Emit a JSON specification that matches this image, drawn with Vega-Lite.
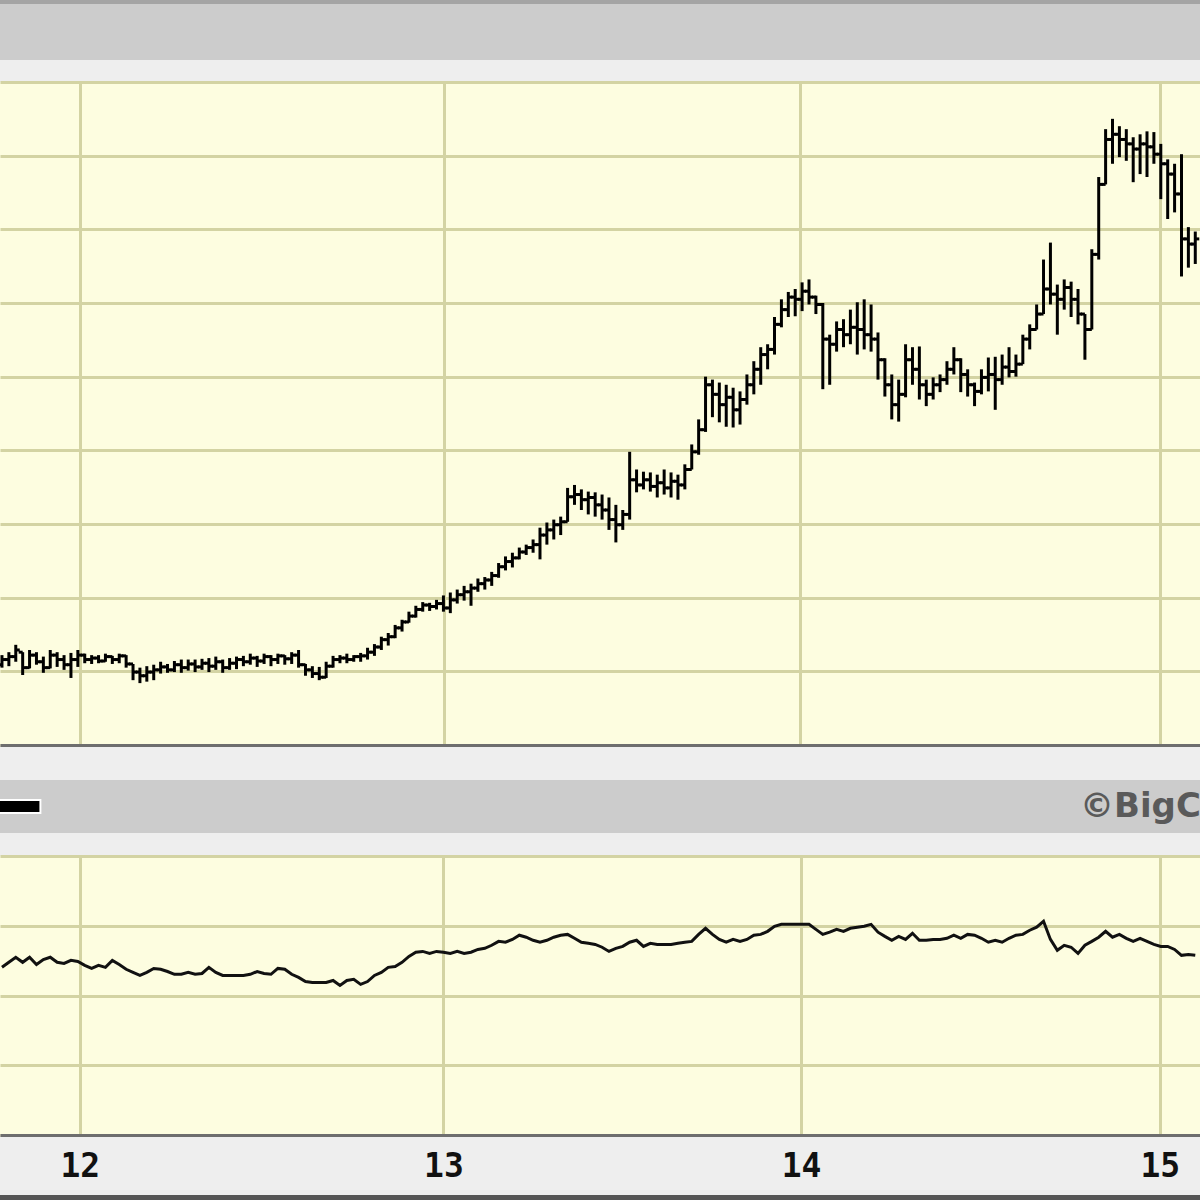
{
"$schema": "https://vega.github.io/schema/vega-lite/v6.json",
"background": "#eeeeee",
"padding": 0,
"spacing": 0,
"config": {"view": {"stroke": null}, "concat": {"spacing": 0}},
"datasets": {"w": [
{"d":"2011-10-14","o":10.9,"h":12.2,"l":10.5,"c":11.6,"v":60.1},
{"d":"2011-10-21","o":11.6,"h":12.6,"l":10.7,"c":12.0,"v":61.9},
{"d":"2011-10-28","o":12.0,"h":13.6,"l":11.3,"c":12.9,"v":63.7},
{"d":"2011-11-04","o":12.6,"h":12.6,"l":9.5,"c":10.5,"v":61.9},
{"d":"2011-11-11","o":10.5,"h":12.9,"l":10.4,"c":12.2,"v":63.7},
{"d":"2011-11-18","o":12.2,"h":12.6,"l":10.9,"c":11.3,"v":61.1},
{"d":"2011-11-25","o":11.3,"h":12.0,"l":9.8,"c":10.5,"v":62.9},
{"d":"2011-12-02","o":10.5,"h":12.9,"l":10.4,"c":12.2,"v":63.7},
{"d":"2011-12-09","o":12.2,"h":12.6,"l":10.6,"c":11.6,"v":61.9},
{"d":"2011-12-16","o":11.6,"h":12.2,"l":10.2,"c":10.9,"v":61.5},
{"d":"2011-12-23","o":10.9,"h":12.5,"l":9.1,"c":11.6,"v":62.6},
{"d":"2011-12-30","o":11.6,"h":12.9,"l":10.6,"c":12.2,"v":62.2},
{"d":"2012-01-06","o":12.2,"h":12.4,"l":11.1,"c":11.6,"v":60.8},
{"d":"2012-01-13","o":11.6,"h":12.2,"l":11.0,"c":11.8,"v":59.7},
{"d":"2012-01-20","o":11.8,"h":12.2,"l":11.1,"c":11.4,"v":60.8},
{"d":"2012-01-27","o":11.4,"h":12.4,"l":11.3,"c":12.0,"v":60.1},
{"d":"2012-02-03","o":12.0,"h":12.1,"l":11.0,"c":11.6,"v":62.6},
{"d":"2012-02-10","o":11.6,"h":12.4,"l":11.1,"c":12.1,"v":61.1},
{"d":"2012-02-17","o":12.1,"h":12.2,"l":10.5,"c":11.0,"v":59.4},
{"d":"2012-02-24","o":11.0,"h":11.0,"l":8.8,"c":9.9,"v":58.3},
{"d":"2012-03-02","o":9.9,"h":10.5,"l":8.4,"c":9.4,"v":57.2},
{"d":"2012-03-09","o":9.4,"h":10.7,"l":8.6,"c":9.9,"v":58.3},
{"d":"2012-03-16","o":9.9,"h":10.9,"l":8.8,"c":10.2,"v":59.7},
{"d":"2012-03-23","o":10.2,"h":11.3,"l":9.7,"c":10.6,"v":59.4},
{"d":"2012-03-30","o":10.6,"h":11.0,"l":9.8,"c":10.2,"v":58.6},
{"d":"2012-04-06","o":10.2,"h":11.4,"l":9.9,"c":10.9,"v":57.6},
{"d":"2012-04-13","o":10.9,"h":11.6,"l":9.8,"c":10.5,"v":57.6},
{"d":"2012-04-20","o":10.5,"h":11.6,"l":10.1,"c":11.0,"v":58.3},
{"d":"2012-04-27","o":11.0,"h":11.6,"l":9.9,"c":10.6,"v":57.6},
{"d":"2012-05-04","o":10.6,"h":11.7,"l":10.2,"c":11.1,"v":57.9},
{"d":"2012-05-11","o":11.1,"h":11.8,"l":9.9,"c":10.7,"v":60.1},
{"d":"2012-05-18","o":10.7,"h":12.0,"l":10.2,"c":11.3,"v":58.3},
{"d":"2012-05-25","o":11.3,"h":11.6,"l":9.8,"c":10.5,"v":57.2},
{"d":"2012-06-01","o":10.5,"h":11.8,"l":10.2,"c":11.1,"v":57.2},
{"d":"2012-06-08","o":11.1,"h":12.0,"l":10.3,"c":11.6,"v":57.2},
{"d":"2012-06-15","o":11.6,"h":12.1,"l":10.7,"c":11.3,"v":57.2},
{"d":"2012-06-22","o":11.3,"h":12.4,"l":10.9,"c":11.8,"v":57.6},
{"d":"2012-06-29","o":11.8,"h":12.1,"l":10.6,"c":11.4,"v":58.6},
{"d":"2012-07-06","o":11.4,"h":12.4,"l":11.0,"c":12.0,"v":57.9},
{"d":"2012-07-13","o":12.0,"h":12.2,"l":10.7,"c":11.6,"v":57.6},
{"d":"2012-07-20","o":11.6,"h":12.4,"l":11.0,"c":12.1,"v":59.7},
{"d":"2012-07-27","o":12.1,"h":12.2,"l":10.9,"c":11.7,"v":59.4},
{"d":"2012-08-03","o":11.7,"h":12.6,"l":11.0,"c":12.2,"v":57.6},
{"d":"2012-08-10","o":12.2,"h":12.9,"l":10.5,"c":10.9,"v":56.5},
{"d":"2012-08-17","o":10.9,"h":11.0,"l":9.4,"c":10.2,"v":55.0},
{"d":"2012-08-24","o":10.2,"h":10.7,"l":9.1,"c":9.7,"v":54.7},
{"d":"2012-08-31","o":9.7,"h":10.6,"l":8.8,"c":9.2,"v":54.7},
{"d":"2012-09-07","o":9.2,"h":11.3,"l":9.1,"c":10.7,"v":54.7},
{"d":"2012-09-14","o":10.7,"h":12.1,"l":10.5,"c":11.6,"v":55.4},
{"d":"2012-09-21","o":11.6,"h":12.2,"l":11.1,"c":11.8,"v":53.6},
{"d":"2012-09-28","o":11.8,"h":12.4,"l":11.1,"c":11.6,"v":55.4},
{"d":"2012-10-05","o":11.6,"h":12.2,"l":11.3,"c":12.0,"v":55.8},
{"d":"2012-10-12","o":12.0,"h":12.5,"l":11.3,"c":12.1,"v":54.0},
{"d":"2012-10-19","o":12.1,"h":13.2,"l":11.6,"c":12.6,"v":55.0},
{"d":"2012-10-26","o":12.6,"h":13.7,"l":12.1,"c":13.3,"v":57.2},
{"d":"2012-11-02","o":13.3,"h":14.7,"l":12.9,"c":14.3,"v":58.3},
{"d":"2012-11-09","o":14.3,"h":15.2,"l":13.5,"c":14.7,"v":60.1},
{"d":"2012-11-16","o":14.7,"h":16.3,"l":14.5,"c":15.9,"v":60.4},
{"d":"2012-11-23","o":15.9,"h":17.0,"l":15.4,"c":16.7,"v":61.9},
{"d":"2012-11-30","o":16.7,"h":18.1,"l":16.6,"c":17.5,"v":64.0},
{"d":"2012-12-07","o":17.5,"h":18.9,"l":17.3,"c":18.4,"v":65.5},
{"d":"2012-12-14","o":18.4,"h":19.4,"l":18.1,"c":19.0,"v":65.8},
{"d":"2012-12-21","o":19.0,"h":19.3,"l":18.2,"c":18.8,"v":65.1},
{"d":"2012-12-28","o":18.8,"h":19.7,"l":18.4,"c":19.2,"v":65.8},
{"d":"2013-01-04","o":19.2,"h":20.3,"l":18.1,"c":18.6,"v":65.5},
{"d":"2013-01-11","o":18.6,"h":20.7,"l":17.9,"c":19.7,"v":65.1},
{"d":"2013-01-18","o":19.7,"h":21.1,"l":19.2,"c":20.4,"v":65.8},
{"d":"2013-01-25","o":20.4,"h":21.6,"l":19.6,"c":20.8,"v":65.1},
{"d":"2013-02-01","o":20.8,"h":21.9,"l":18.9,"c":21.3,"v":65.5},
{"d":"2013-02-08","o":21.3,"h":22.6,"l":20.8,"c":21.9,"v":66.5},
{"d":"2013-02-15","o":21.9,"h":22.8,"l":21.1,"c":22.4,"v":66.9},
{"d":"2013-02-22","o":22.4,"h":23.5,"l":21.6,"c":23.0,"v":68.0},
{"d":"2013-03-01","o":23.0,"h":24.7,"l":22.7,"c":24.2,"v":69.4},
{"d":"2013-03-08","o":24.2,"h":25.6,"l":23.7,"c":24.9,"v":69.1},
{"d":"2013-03-15","o":24.9,"h":26.1,"l":24.1,"c":25.4,"v":70.1},
{"d":"2013-03-22","o":25.4,"h":26.8,"l":25.2,"c":26.2,"v":71.6},
{"d":"2013-03-29","o":26.2,"h":27.2,"l":25.8,"c":26.8,"v":70.9},
{"d":"2013-04-05","o":26.8,"h":27.9,"l":26.1,"c":27.2,"v":69.8},
{"d":"2013-04-12","o":27.2,"h":29.5,"l":25.2,"c":28.5,"v":69.1},
{"d":"2013-04-19","o":28.5,"h":30.2,"l":27.2,"c":29.2,"v":69.8},
{"d":"2013-04-26","o":29.2,"h":30.6,"l":27.9,"c":29.9,"v":70.9},
{"d":"2013-05-03","o":29.9,"h":31.0,"l":28.5,"c":30.3,"v":71.6},
{"d":"2013-05-10","o":30.3,"h":34.9,"l":30.3,"c":33.7,"v":71.9},
{"d":"2013-05-17","o":33.7,"h":35.3,"l":32.6,"c":34.0,"v":70.5},
{"d":"2013-05-24","o":34.0,"h":34.7,"l":31.9,"c":33.3,"v":69.1},
{"d":"2013-05-31","o":33.3,"h":34.4,"l":31.3,"c":33.6,"v":68.7},
{"d":"2013-06-07","o":33.6,"h":34.3,"l":31.0,"c":32.6,"v":68.3},
{"d":"2013-06-14","o":32.6,"h":34.0,"l":30.6,"c":31.9,"v":67.3},
{"d":"2013-06-21","o":31.9,"h":33.6,"l":29.2,"c":30.6,"v":65.8},
{"d":"2013-06-28","o":30.6,"h":32.6,"l":27.5,"c":29.9,"v":66.9},
{"d":"2013-07-05","o":29.9,"h":31.9,"l":29.2,"c":31.3,"v":67.6},
{"d":"2013-07-12","o":31.3,"h":39.8,"l":30.6,"c":36.0,"v":69.1},
{"d":"2013-07-19","o":36.0,"h":37.4,"l":34.3,"c":35.3,"v":69.8},
{"d":"2013-07-26","o":35.3,"h":37.1,"l":34.7,"c":36.0,"v":67.6},
{"d":"2013-08-02","o":36.0,"h":37.0,"l":34.4,"c":35.1,"v":68.7},
{"d":"2013-08-09","o":35.1,"h":36.7,"l":33.6,"c":35.6,"v":68.3},
{"d":"2013-08-16","o":35.6,"h":37.4,"l":34.0,"c":34.9,"v":68.3},
{"d":"2013-08-23","o":34.9,"h":37.0,"l":33.6,"c":35.8,"v":68.3},
{"d":"2013-08-30","o":35.8,"h":36.7,"l":33.3,"c":35.3,"v":68.7},
{"d":"2013-09-06","o":35.3,"h":38.1,"l":34.7,"c":37.4,"v":69.1},
{"d":"2013-09-13","o":37.4,"h":40.8,"l":37.4,"c":39.8,"v":69.4},
{"d":"2013-09-20","o":39.8,"h":44.2,"l":39.4,"c":42.8,"v":71.9},
{"d":"2013-09-27","o":42.8,"h":50.0,"l":42.5,"c":48.9,"v":74.1},
{"d":"2013-10-04","o":48.9,"h":49.6,"l":44.5,"c":47.6,"v":71.9},
{"d":"2013-10-11","o":47.6,"h":49.2,"l":43.8,"c":46.2,"v":70.1},
{"d":"2013-10-18","o":46.2,"h":48.9,"l":43.2,"c":47.2,"v":69.1},
{"d":"2013-10-25","o":47.2,"h":48.5,"l":43.1,"c":45.5,"v":70.1},
{"d":"2013-11-01","o":45.5,"h":48.0,"l":43.5,"c":46.9,"v":69.4},
{"d":"2013-11-08","o":46.9,"h":50.3,"l":46.2,"c":48.9,"v":70.1},
{"d":"2013-11-15","o":48.9,"h":52.1,"l":47.6,"c":51.0,"v":71.6},
{"d":"2013-11-22","o":51.0,"h":54.0,"l":48.9,"c":53.0,"v":71.9},
{"d":"2013-11-29","o":53.0,"h":54.4,"l":51.0,"c":53.7,"v":73.0},
{"d":"2013-12-06","o":53.7,"h":58.1,"l":53.0,"c":57.1,"v":74.8},
{"d":"2013-12-13","o":57.1,"h":60.5,"l":56.7,"c":59.1,"v":75.5},
{"d":"2013-12-20","o":59.1,"h":61.5,"l":58.1,"c":60.8,"v":75.5},
{"d":"2013-12-27","o":60.8,"h":61.9,"l":58.2,"c":60.5,"v":75.5},
{"d":"2014-01-03","o":60.5,"h":62.8,"l":58.9,"c":61.6,"v":75.5},
{"d":"2014-01-10","o":61.6,"h":63.2,"l":59.8,"c":60.8,"v":75.5},
{"d":"2014-01-17","o":60.8,"h":61.0,"l":58.5,"c":59.8,"v":73.7},
{"d":"2014-01-24","o":59.8,"h":60.0,"l":48.3,"c":55.1,"v":71.9},
{"d":"2014-01-31","o":55.1,"h":55.7,"l":48.9,"c":54.4,"v":72.7},
{"d":"2014-02-07","o":54.4,"h":57.5,"l":53.4,"c":56.4,"v":73.7},
{"d":"2014-02-14","o":56.4,"h":57.8,"l":54.0,"c":55.7,"v":73.0},
{"d":"2014-02-21","o":55.7,"h":59.1,"l":54.4,"c":56.7,"v":74.1},
{"d":"2014-02-28","o":56.7,"h":60.1,"l":53.0,"c":56.4,"v":74.5},
{"d":"2014-03-07","o":56.4,"h":60.5,"l":53.7,"c":55.7,"v":74.8},
{"d":"2014-03-14","o":55.7,"h":59.8,"l":53.4,"c":55.1,"v":75.5},
{"d":"2014-03-21","o":55.1,"h":56.0,"l":49.6,"c":52.3,"v":72.7},
{"d":"2014-03-28","o":52.3,"h":52.5,"l":47.3,"c":48.9,"v":71.2},
{"d":"2014-04-04","o":48.9,"h":50.3,"l":44.2,"c":46.2,"v":69.8},
{"d":"2014-04-11","o":46.2,"h":49.6,"l":43.9,"c":47.6,"v":71.2},
{"d":"2014-04-18","o":47.6,"h":54.4,"l":47.2,"c":52.3,"v":70.1},
{"d":"2014-04-25","o":52.3,"h":54.0,"l":48.9,"c":51.0,"v":72.3},
{"d":"2014-05-02","o":51.0,"h":54.1,"l":46.9,"c":48.9,"v":69.8},
{"d":"2014-05-09","o":48.9,"h":49.6,"l":46.0,"c":47.6,"v":69.8},
{"d":"2014-05-16","o":47.6,"h":49.9,"l":46.9,"c":48.9,"v":70.1},
{"d":"2014-05-23","o":48.9,"h":50.3,"l":47.9,"c":49.6,"v":70.1},
{"d":"2014-05-30","o":49.6,"h":52.1,"l":48.9,"c":51.0,"v":70.5},
{"d":"2014-06-06","o":51.0,"h":54.0,"l":50.3,"c":52.3,"v":71.6},
{"d":"2014-06-13","o":52.3,"h":52.5,"l":47.9,"c":50.3,"v":70.5},
{"d":"2014-06-20","o":50.3,"h":51.0,"l":47.3,"c":48.9,"v":71.9},
{"d":"2014-06-27","o":48.9,"h":49.2,"l":46.0,"c":48.0,"v":71.6},
{"d":"2014-07-04","o":48.0,"h":51.0,"l":47.6,"c":49.9,"v":70.5},
{"d":"2014-07-11","o":49.9,"h":52.6,"l":48.0,"c":50.3,"v":69.1},
{"d":"2014-07-18","o":50.3,"h":52.7,"l":45.5,"c":49.6,"v":69.8},
{"d":"2014-07-25","o":49.6,"h":53.0,"l":48.9,"c":51.3,"v":69.1},
{"d":"2014-08-01","o":51.3,"h":54.0,"l":49.9,"c":50.7,"v":70.5},
{"d":"2014-08-08","o":50.7,"h":53.0,"l":50.0,"c":51.7,"v":71.6},
{"d":"2014-08-15","o":51.7,"h":55.7,"l":51.7,"c":55.1,"v":71.9},
{"d":"2014-08-22","o":55.1,"h":57.1,"l":53.7,"c":56.4,"v":73.4},
{"d":"2014-08-29","o":56.4,"h":59.8,"l":56.4,"c":58.5,"v":74.5},
{"d":"2014-09-05","o":58.5,"h":65.9,"l":58.5,"c":61.9,"v":76.6},
{"d":"2014-09-12","o":61.9,"h":68.2,"l":59.8,"c":61.2,"v":70.1},
{"d":"2014-09-19","o":61.2,"h":62.5,"l":55.7,"c":60.5,"v":66.2},
{"d":"2014-09-26","o":60.5,"h":63.2,"l":59.1,"c":62.1,"v":68.0},
{"d":"2014-10-03","o":62.1,"h":62.9,"l":58.1,"c":60.5,"v":67.3},
{"d":"2014-10-10","o":60.5,"h":61.9,"l":57.1,"c":58.5,"v":65.1},
{"d":"2014-10-17","o":58.5,"h":58.5,"l":52.3,"c":56.4,"v":68.0},
{"d":"2014-10-24","o":56.4,"h":67.3,"l":56.4,"c":66.6,"v":69.4},
{"d":"2014-10-31","o":66.6,"h":77.1,"l":65.9,"c":76.1,"v":70.9},
{"d":"2014-11-07","o":76.1,"h":83.6,"l":76.1,"c":82.2,"v":73.0},
{"d":"2014-11-14","o":82.2,"h":85.0,"l":78.9,"c":82.9,"v":70.9},
{"d":"2014-11-21","o":82.9,"h":84.0,"l":79.8,"c":82.2,"v":71.9},
{"d":"2014-11-28","o":82.2,"h":83.6,"l":79.3,"c":81.6,"v":70.5},
{"d":"2014-12-05","o":81.6,"h":82.5,"l":76.4,"c":80.9,"v":69.4},
{"d":"2014-12-12","o":80.9,"h":82.9,"l":77.5,"c":81.6,"v":70.5},
{"d":"2014-12-19","o":81.6,"h":83.3,"l":77.1,"c":81.2,"v":69.4},
{"d":"2014-12-26","o":81.2,"h":83.2,"l":78.9,"c":80.2,"v":68.3},
{"d":"2015-01-02","o":80.2,"h":81.6,"l":74.1,"c":78.9,"v":67.6},
{"d":"2015-01-09","o":78.9,"h":79.5,"l":71.4,"c":77.5,"v":67.6},
{"d":"2015-01-16","o":77.5,"h":78.9,"l":72.3,"c":74.8,"v":66.5},
{"d":"2015-01-23","o":74.8,"h":80.2,"l":63.6,"c":68.7,"v":64.4},
{"d":"2015-01-30","o":68.7,"h":70.3,"l":64.8,"c":68.0,"v":64.7},
{"d":"2015-02-06","o":68.0,"h":69.7,"l":65.3,"c":68.7,"v":64.4}
]},
"vconcat": [
{"width": 1200, "height": 4, "view": {"fill": "#a4a4a4", "stroke": null}, "mark": "text", "encoding": {"text": {"value": ""}}},
{"width": 1200, "height": 56, "view": {"fill": "#cccccc", "stroke": null}, "mark": "text", "encoding": {"text": {"value": ""}}},
{"width": 1200, "height": 22, "mark": "text", "encoding": {"text": {"value": ""}}},
{
 "width": 1200, "height": 663,
 "view": {"fill": "#fdfde0", "stroke": null},
 "data": {"name": "w"},
 "encoding": {
  "x": {"field": "d", "type": "temporal",
   "scale": {"type": "utc", "domain": [{"year": 2011, "month": 10, "date": 12, "utc": true}, {"year": 2015, "month": 2, "date": 10, "hours": 19, "utc": true}]},
   "axis": {"orient": "bottom", "title": null, "labels": false, "ticks": false, "domain": true, "domainColor": "#6e6e6e", "domainWidth": 3,
    "grid": true, "gridColor": "#d3d3a3", "gridWidth": 3,
    "values": [{"year": 2012, "month": 1, "date": 1, "utc": true}, {"year": 2013, "month": 1, "date": 5, "utc": true}, {"year": 2014, "month": 1, "date": 1, "utc": true}, {"year": 2015, "month": 1, "date": 1, "utc": true}]}}
 },
 "layer": [
  {"mark": {"type": "rule", "color": "#000000", "strokeWidth": 3, "clip": true},
   "encoding": {"y": {"field": "l", "type": "quantitative", "scale": {"domain": [0, 90], "nice": false, "zero": false},
     "axis": {"title": null, "labels": false, "ticks": false, "domain": false, "grid": true, "gridColor": "#d3d3a3", "gridWidth": 3, "values": [0, 10, 20, 30, 40, 50, 60, 70, 80, 90]}},
    "y2": {"field": "h"}}},
  {"mark": {"type": "rule", "color": "#000000", "strokeWidth": 3, "xOffset": -4, "clip": true},
   "encoding": {"x2": {"field": "d"}, "y": {"field": "o", "type": "quantitative"}}},
  {"mark": {"type": "rule", "color": "#000000", "strokeWidth": 3, "x2Offset": 4, "clip": true},
   "encoding": {"x2": {"field": "d"}, "y": {"field": "c", "type": "quantitative"}}}
 ]
},
{"width": 1200, "height": 35, "mark": "text", "encoding": {"text": {"value": ""}}},
{
 "width": 1200, "height": 53,
 "view": {"fill": "#cccccc", "stroke": null},
 "data": {"values": [{"label": "©BigCharts.com", "start": "2011-10-12", "swatch": "2011-11-21", "outline": "2011-11-23", "at": "2014-10-12"}]},
 "layer": [
  {"mark": {"type": "rule", "color": "#ffffff", "strokeWidth": 15, "clip": true},
   "encoding": {"x": {"field": "start", "type": "temporal", "scale": {"type": "utc", "domain": [{"year": 2011, "month": 10, "date": 12, "utc": true}, {"year": 2015, "month": 2, "date": 10, "hours": 19, "utc": true}]}, "axis": null},
    "x2": {"field": "outline"}}},
  {"mark": {"type": "rule", "color": "#000000", "strokeWidth": 11, "clip": true},
   "encoding": {"x": {"field": "start", "type": "temporal"}, "x2": {"field": "swatch"}}},
  {"mark": {"type": "text", "align": "left", "baseline": "middle", "font": "DejaVu Sans", "fontSize": 34, "fontWeight": "bold", "color": "#5a5a5a", "clip": true},
   "encoding": {"x": {"field": "at", "type": "temporal"}, "text": {"field": "label"}}}
 ]
},
{"width": 1200, "height": 23, "mark": "text", "encoding": {"text": {"value": ""}}},
{
 "width": 1200, "height": 279,
 "view": {"fill": "#fdfde0", "stroke": null},
 "data": {"name": "w"},
 "mark": {"type": "line", "color": "#111111", "strokeWidth": 3, "clip": true},
 "encoding": {
  "x": {"field": "d", "type": "temporal",
   "scale": {"type": "utc", "domain": [{"year": 2011, "month": 10, "date": 12, "utc": true}, {"year": 2015, "month": 2, "date": 10, "hours": 19, "utc": true}]},
   "axis": {"orient": "bottom", "title": null, "ticks": false, "domain": true, "domainColor": "#6e6e6e", "domainWidth": 3,
    "grid": true, "gridColor": "#d3d3a3", "gridWidth": 3,
    "labelExpr": "utcFormat(datum.value, '%y')", "labelFont": "DejaVu Sans Mono", "labelFontSize": 33, "labelFontWeight": "bold", "labelColor": "#111111", "labelPadding": 15, "labelFlush": false, "labelOverlap": false,
    "values": [{"year": 2012, "month": 1, "date": 1, "utc": true}, {"year": 2013, "month": 1, "date": 4, "utc": true}, {"year": 2014, "month": 1, "date": 2, "utc": true}, {"year": 2015, "month": 1, "date": 1, "utc": true}]}},
  "y": {"field": "v", "type": "quantitative", "scale": {"domain": [0, 100], "nice": false, "zero": false},
   "axis": {"title": null, "labels": false, "ticks": false, "domain": false, "grid": true, "gridColor": "#d3d3a3", "gridWidth": 3, "values": [0, 25, 50, 75, 100]}}
 }
},
{"width": 1200, "height": 12, "mark": "text", "encoding": {"text": {"value": ""}}},
{"width": 1200, "height": 8, "view": {"fill": "#555555", "stroke": null}, "mark": "text", "encoding": {"text": {"value": ""}}}
]
}
